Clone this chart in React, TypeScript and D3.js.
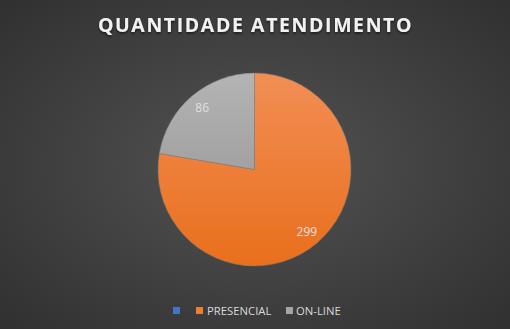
import React from "react";
import * as d3 from "d3";

const categories = ["", "PRESENCIAL", "ON-LINE"];
const values = [0, 299, 86];
const colors = ["#4472c4", "#ed7d31", "#a5a5a5"];
const gradTop = ["#6a8fd6", "#f28e55", "#b4b4b4"];
const gradBottom = ["#3a66b8", "#e96f1c", "#8f8f8f"];
const title = "QUANTIDADE ATENDIMENTO";

const W = 510;
const H = 329;

export default function App() {
  const cx = 254.5;
  const cy = 169.5;
  const R = 96.5;
  const pie = d3.pie<number>().sort(null).value((d) => d)(values);
  const arc = d3.arc<d3.PieArcDatum<number>>().innerRadius(0).outerRadius(R);
  const labelArc = d3.arc<d3.PieArcDatum<number>>().innerRadius(R * 0.84).outerRadius(R * 0.84);

  const legendItems = [
    { x: 173, textX: 0 },
    { x: 196, textX: 207 },
    { x: 286, textX: 296 },
  ];

  return (
    <svg width={W} height={H} style={{ position: "absolute", left: 0, top: 0 }}>
      <defs>
        <radialGradient id="bg" cx="50%" cy="50%" r="75%">
          <stop offset="0%" stopColor="#535353" />
          <stop offset="100%" stopColor="#2e2e2e" />
        </radialGradient>
        {values.map((_, i) => (
          <linearGradient key={i} id={`g${i}`} x1="0" y1={-R} x2="0" y2={R} gradientUnits="userSpaceOnUse">
            <stop offset="0%" stopColor={gradTop[i]} />
            <stop offset="100%" stopColor={gradBottom[i]} />
          </linearGradient>
        ))}
        <filter id="sh" x="-10%" y="-30%" width="120%" height="160%">
          <feDropShadow dx="0" dy="1.5" stdDeviation="1.2" floodColor="#000" floodOpacity="0.6" />
        </filter>
      </defs>
      <rect x={0} y={0} width={W} height={H} fill="url(#bg)" />
      <text
        x={W / 2 + 0.5}
        y={32}
        textAnchor="middle"
        fill="#f2f2f2"
        fontFamily="'Open Sans', sans-serif"
        fontWeight="bold"
        fontSize={19.5}
        letterSpacing={1.6}
        filter="url(#sh)"
      >
        {title}
      </text>
      <g transform={`translate(${cx},${cy})`}>
        {pie.map((d, i) =>
          d.value > 0 ? (
            <path key={i} d={arc(d) || ""} fill={`url(#g${i})`} stroke="#7a7a7a" strokeOpacity={0.6} strokeWidth={0.8} />
          ) : null
        )}
        {pie.map((d, i) => {
          if (d.value <= 0) return null;
          const [lx, ly] = labelArc.centroid(d);
          return (
            <text
              key={"l" + i}
              x={lx}
              y={ly}
              dy="0.35em"
              textAnchor="middle"
              fill="#e0e0e0"
              fontFamily="'Open Sans', sans-serif"
              fontSize={12}
            >
              {d.value}
            </text>
          );
        })}
      </g>
      {categories.map((c, i) => (
        <g key={"lg" + i}>
          <rect x={legendItems[i].x} y={307} width={7} height={7} fill={colors[i]} />
          {c ? (
            <text
              x={legendItems[i].textX}
              y={314.5}
              fill="#d9d9d9"
              fontFamily="'Open Sans', sans-serif"
              fontSize={11.3}
            >
              {c}
            </text>
          ) : null}
        </g>
      ))}
    </svg>
  );
}
